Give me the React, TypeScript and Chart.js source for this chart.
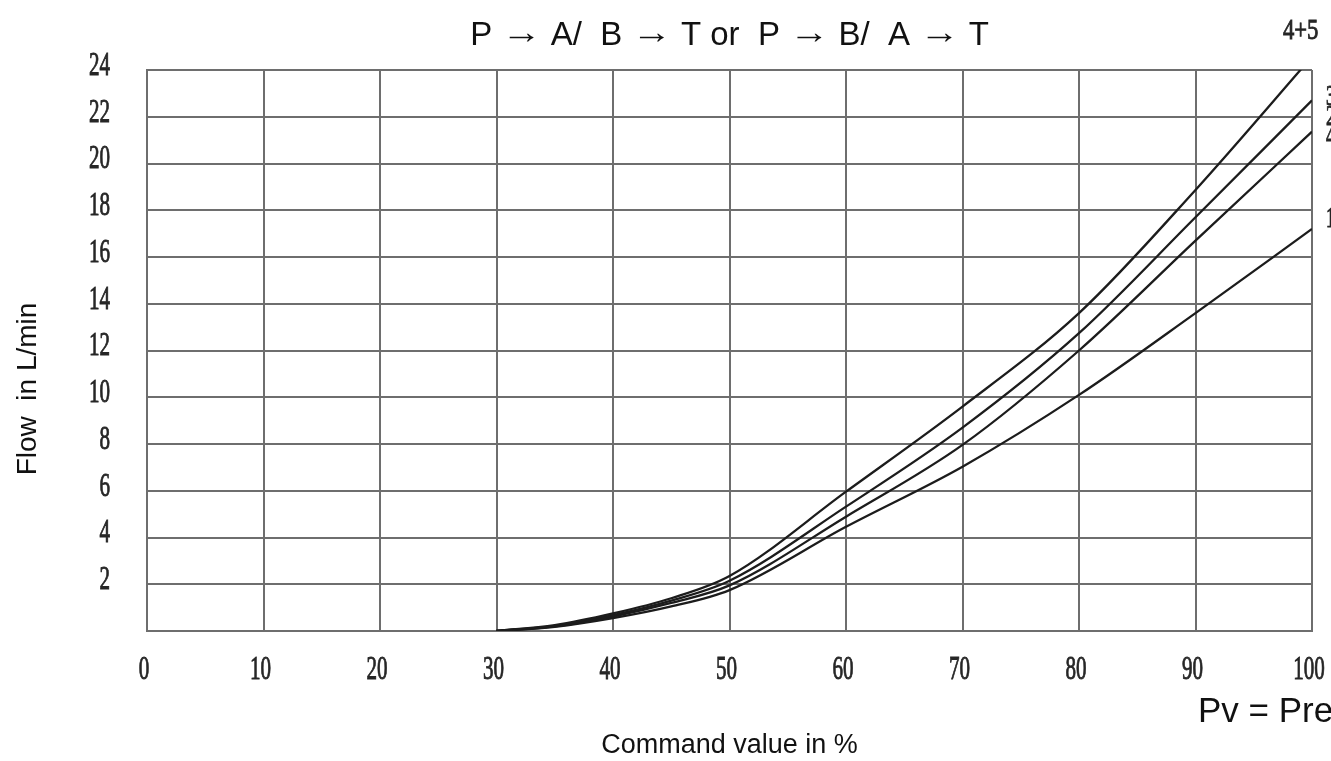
import React, { useEffect, useRef } from "react";
import { Chart, registerables } from "chart.js";

Chart.register(...registerables);

// Command value (%) at which each flow reading is taken
const commandPct = [30, 35, 40, 45, 50, 60, 70, 80, 90, 100];

// Flow in L/min for each valve pressure drop curve
const flow45 = [0, 0.25, 0.75, 1.4, 2.35, 5.96, 9.6, 13.6, 18.87, 24.57];
const flow3 = [0, 0.22, 0.68, 1.3, 2.15, 5.32, 8.7, 12.74, 17.7, 22.7];
const flow2 = [0, 0.2, 0.62, 1.2, 1.95, 4.89, 7.96, 12.0, 16.7, 21.36];
const flow1 = [0, 0.18, 0.55, 1.05, 1.75, 4.46, 7.03, 10.1, 13.6, 17.2];

const seriesNames = ["4+5", "3", "2", "1"];
const seriesValues = [flow45, flow3, flow2, flow1];

// Curve labels placed beyond the right edge of the grid
const edgeLabels = ["3", "2", "4", "1"];
const edgeLabelY = [97, 117, 137, 219];

// Title pieces; arrows are drawn stretched
const ARROW = "\u2192";
const titleParts = ["P ", ARROW, " A/  B ", ARROW, " T or  P ", ARROW, " B/  A ", ARROW, " T"];
const xTitle = "Command value in %";
const yTitle = "Flow  in L/min";
const pressureNote = "Pv = Pressure";

const W = 1331;
const H = 761;

const serifNarrow = (
  ctx: CanvasRenderingContext2D,
  text: string,
  x: number,
  y: number,
  align: CanvasTextAlign,
  sx = 0.62
) => {
  ctx.save();
  ctx.translate(x, y);
  ctx.scale(sx, 1);
  ctx.textAlign = align;
  ctx.textBaseline = "middle";
  ctx.lineWidth = 0.9;
  ctx.strokeStyle = ctx.fillStyle as string;
  ctx.fillText(text, 0, 0);
  ctx.strokeText(text, 0, 0);
  ctx.restore();
};

const drawTitle = (ctx: CanvasRenderingContext2D, cx: number, cy: number) => {
  const arrowStretch = 1.22;
  ctx.font = "33px 'Liberation Sans'";
  let total = 0;
  const widths = titleParts.map((s) => {
    const w = ctx.measureText(s).width * (s === ARROW ? arrowStretch : 1);
    total += w;
    return w;
  });
  let x = cx - total / 2;
  ctx.textAlign = "left";
  ctx.textBaseline = "middle";
  titleParts.forEach((s, i) => {
    if (s === ARROW) {
      ctx.save();
      ctx.translate(x, cy - 2);
      ctx.scale(arrowStretch, 1);
      ctx.fillText(s, 0, 0);
      ctx.restore();
    } else {
      ctx.fillText(s, x, cy);
    }
    x += widths[i];
  });
};

const annotations = {
  id: "flowAnnotations",
  afterDraw(chart: any) {
    const { ctx, chartArea, scales } = chart;
    const xs = scales.x;
    const ys = scales.y;
    const midX = (chartArea.left + chartArea.right) / 2;
    ctx.save();
    ctx.fillStyle = "#262626";

    // tick labels, taken from the scales
    ctx.font = "34px 'Liberation Serif'";
    xs.ticks.forEach((t: any) => {
      serifNarrow(ctx, String(t.value), xs.getPixelForValue(t.value) - 3, 670, "center");
    });
    ys.ticks.forEach((t: any) => {
      if (t.value === 0) return;
      serifNarrow(ctx, String(t.value), 110, ys.getPixelForValue(t.value) - 4, "right");
    });

    // curve labels
    ctx.font = "29px 'Liberation Serif'";
    serifNarrow(ctx, seriesNames[0], 1283, 31, "left", 0.78);
    edgeLabels.forEach((s, i) => serifNarrow(ctx, s, 1326, edgeLabelY[i], "left"));

    // titles
    ctx.fillStyle = "#111";
    drawTitle(ctx, midX, 36);

    ctx.textBaseline = "middle";
    ctx.textAlign = "center";
    ctx.font = "27px 'Liberation Sans'";
    ctx.fillText(xTitle, midX, 746);

    ctx.save();
    ctx.translate(28, 389);
    ctx.rotate(-Math.PI / 2);
    ctx.font = "28px 'Liberation Sans'";
    ctx.fillText(yTitle, 0, 0);
    ctx.restore();

    ctx.textAlign = "left";
    ctx.font = "35px 'Liberation Sans'";
    ctx.fillText(pressureNote, 1198, 712);
    ctx.restore();
  },
};

export default function App() {
  const ref = useRef<HTMLCanvasElement>(null);

  useEffect(() => {
    if (!ref.current) return;
    const gridColor = "#6e6e6e";
    const chart = new Chart(ref.current, {
      type: "line",
      data: {
        datasets: seriesValues.map((vals, i) => ({
          label: seriesNames[i],
          data: commandPct.map((c, j) => ({ x: c, y: vals[j] })),
          borderColor: "#1c1c1c",
          borderWidth: 2.3,
          pointRadius: 0,
          fill: false,
          cubicInterpolationMode: "monotone" as const,
          clip: 0,
        })),
      },
      options: {
        responsive: false,
        animation: false,
        layout: { padding: { left: 0, right: 19, top: 70, bottom: 0 } },
        plugins: { legend: { display: false }, tooltip: { enabled: false } },
        scales: {
          x: {
            type: "linear",
            min: 0,
            max: 100,
            ticks: { stepSize: 10, display: false },
            grid: { color: gridColor, lineWidth: 2, drawTicks: false },
            border: { display: true, color: gridColor, width: 2 },
            afterFit: (s: any) => {
              s.height = 130;
            },
          },
          y: {
            min: 0,
            max: 24,
            ticks: { stepSize: 2, display: false },
            grid: { color: gridColor, lineWidth: 2, drawTicks: false },
            border: { display: true, color: gridColor, width: 2 },
            afterFit: (s: any) => {
              s.width = 147;
            },
          },
        },
      },
      plugins: [annotations],
    });
    return () => chart.destroy();
  }, []);

  return (
    <div style={{ position: "absolute", left: 0, top: 0, width: W, height: H, overflow: "hidden", background: "#fff" }}>
      <canvas ref={ref} width={W} height={H} style={{ width: W, height: H, display: "block" }} />
    </div>
  );
}
